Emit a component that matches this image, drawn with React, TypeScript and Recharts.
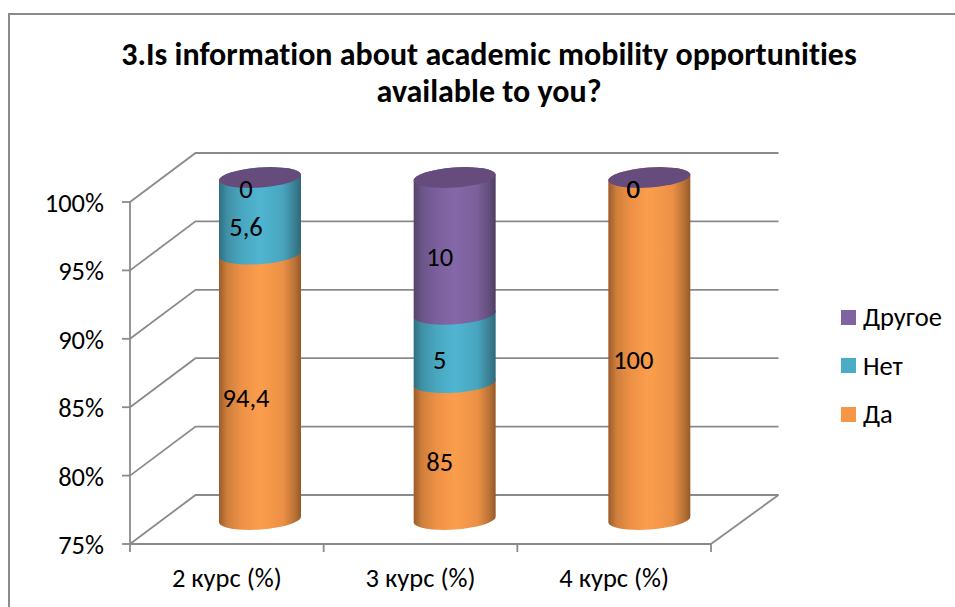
import React from "react";
import { BarChart, Bar, XAxis, YAxis, CartesianGrid, LabelList, Legend } from "recharts";

const titleLines = ["3.Is information about academic mobility opportunities", "available to you?"];
const categories = ["2 курс (%)", "3 курс (%)", "4 курс (%)"];
const yesValues = [94.4, 85, 100];
const noValues = [5.6, 5, 0];
const otherValues = [0, 10, 0];
const yTicks = [75, 80, 85, 90, 95, 100];

const W = 955, H = 607;
const PLOT_L = 130, PLOT_R = 711, PLOT_T = 202, PLOT_B = 544;
const WALL_DX = 65.5, WALL_DX_RIGHT = 67.5, WALL_DY = -49;
const BAR_DX = 33, BAR_DY = -24.5, BAR_SPREAD = 1;
const LABEL_DX = 19, LABEL_DY = -13.5;
const TILT = 3, RY = 10;
const LINE = "#8a8a8a";
const FONT = "Carlito, Lato, 'Open Sans', sans-serif";
const TXT = "#000000";
const FS = 26.5;

const data = categories.map((c, i) => ({ category: c, yes: yesValues[i], no: noValues[i], other: otherValues[i] }));

const palette: Record<string, { fill: string; stops: [number, string][]; cap?: string }> = {
  yes: { fill: "#F79646", stops: [[0, "#9a5c2b"], [0.1, "#cf7f3c"], [0.28, "#ee9146"], [0.5, "#fb9e4c"], [0.78, "#ec9046"], [0.92, "#bb7336"], [1, "#94592a"]] },
  no: { fill: "#4BACC6", stops: [[0, "#2f6f80"], [0.1, "#3f90a6"], [0.28, "#49a7c0"], [0.5, "#50b5d1"], [0.78, "#48a5be"], [0.92, "#3a8094"], [1, "#2d6a7a"]] },
  other: { fill: "#8064A2", stops: [[0, "#544369"], [0.1, "#6c5589"], [0.28, "#7b609c"], [0.5, "#8568a8"], [0.78, "#7a5f9a"], [0.92, "#624e7c"], [1, "#4f3f63"]], cap: "#654c7d" },
};

function cylinder(key: string) {
  return (props: any) => {
    const { x, y, width, height, index } = props;
    const cx = x + width / 2 + BAR_DX + index * BAR_SPREAD;
    const rx = width / 2;
    const yTop = y + BAR_DY;
    const yBot = Math.min(y + height, PLOT_B) + BAR_DY;
    const r = Math.hypot(rx, TILT);
    const rot = (-Math.atan2(TILT, rx) * 180) / Math.PI;
    const d = [
      `M ${cx - rx} ${yTop + TILT}`,
      `A ${r} ${RY} ${rot} 0 1 ${cx + rx} ${yTop - TILT}`,
      `L ${cx + rx} ${yBot - TILT}`,
      `A ${r} ${RY} ${rot} 0 1 ${cx - rx} ${yBot + TILT}`,
      "Z",
    ].join(" ");
    return (
      <g>
        {height > 0 && <path d={d} fill={`url(#grad-${key})`} />}
        {palette[key].cap && (
          <ellipse cx={cx} cy={yTop} rx={r} ry={RY} fill={palette[key].cap} transform={`rotate(${rot} ${cx} ${yTop})`} />
        )}
      </g>
    );
  };
}

const SegmentLabel = (props: any) => {
  const { x, y, width, height, value } = props;
  const bottom = Math.min(y + height, PLOT_B);
  return (
    <text
      x={x + width / 2 + LABEL_DX}
      y={(y + bottom) / 2 + LABEL_DY}
      textAnchor="middle"
      dominantBaseline="central"
      fontSize={FS}
      fontFamily={FONT}
      fill={TXT}
    >
      {String(value).replace(".", ",")}
    </text>
  );
};

const GridLine = (props: any) => {
  const { x1, x2, y1 } = props;
  const floor = Math.abs(y1 - PLOT_B) < 1;
  const bx1 = x1 + WALL_DX, bx2 = x2 + WALL_DX_RIGHT, by = y1 + WALL_DY;
  return (
    <g fill="none" stroke={LINE} strokeWidth={1.8}>
      <path d={`M ${x1} ${y1} L ${bx1} ${by} L ${bx2} ${by}`} />
      {floor && <path d={`M ${x2} ${y1} L ${bx2} ${by}`} />}
    </g>
  );
};

const XTick = (props: any) => {
  const { x, y, payload, index } = props;
  const half = (PLOT_R - PLOT_L) / categories.length / 2;
  return (
    <g>
      {index === 0 && <line x1={x - half} x2={x - half} y1={PLOT_B} y2={PLOT_B + 8} stroke={LINE} strokeWidth={1.8} />}
      <line x1={x + half} x2={x + half} y1={PLOT_B} y2={PLOT_B + 8} stroke={LINE} strokeWidth={1.8} />
      <text x={x} y={y + 26} textAnchor="middle" dominantBaseline="central" fontSize={FS} fontFamily={FONT} fill={TXT}>
        {payload.value}
      </text>
    </g>
  );
};

const YTick = (props: any) => {
  const { x, y, payload } = props;
  return (
    <text x={x} y={y + 1} textAnchor="end" dominantBaseline="central" fontSize={FS} fontFamily={FONT} fill={TXT}>
      {`${payload.value}%`}
    </text>
  );
};

const names: Record<string, string> = { yes: "Да", no: "Нет", other: "Другое" };

const LegendBox = (props: any) => {
  const items = [...(props.payload || [])].reverse();
  return (
    <div style={{ fontFamily: FONT, fontSize: FS, color: TXT }}>
      {items.map((it: any) => (
        <div key={it.value} style={{ display: "flex", alignItems: "center", height: 48.5 }}>
          <span style={{ display: "inline-block", width: 15, height: 15, background: it.color, marginRight: 7 }} />
          <span>{it.value}</span>
        </div>
      ))}
    </div>
  );
};

export default function App() {
  return (
    <div style={{ position: "absolute", left: 0, top: 0, width: W, height: H, background: "#fff", overflow: "hidden" }}>
      <style>{`.recharts-surface g { clip-path: none !important; }`}</style>
      <div style={{ position: "absolute", left: 8, top: 13, right: -4, bottom: -4, borderLeft: `2px solid ${LINE}`, borderTop: `2px solid ${LINE}` }} />
      <div
        style={{
          position: "absolute",
          left: 0,
          width: 978,
          top: 36,
          textAlign: "center",
          fontFamily: FONT,
          fontWeight: 700,
          fontSize: 32,
          lineHeight: "37px",
          color: TXT,
          fontVariantLigatures: "none",
        }}
      >
        {titleLines.map((t) => (
          <div key={t}>{t}</div>
        ))}
      </div>
      <div style={{ position: "absolute", left: 0, top: 0 }}>
        <BarChart
          width={W}
          height={H}
          data={data}
          margin={{ top: PLOT_T, left: 0, right: W - PLOT_R, bottom: 0 }}
          barSize={82}
          style={{ overflow: "visible" }}
        >
          <defs>
            {Object.keys(palette).map((k) => (
              <linearGradient key={k} id={`grad-${k}`} x1="0" y1="0" x2="1" y2="0">
                {palette[k].stops.map(([o, c]) => (
                  <stop key={o} offset={o} stopColor={c} />
                ))}
              </linearGradient>
            ))}
          </defs>
          <CartesianGrid vertical={false} horizontal={GridLine as any} />
          <XAxis
            dataKey="category"
            height={H - PLOT_B}
            axisLine={{ stroke: LINE, strokeWidth: 1.8 }}
            tickLine={false}
            tick={XTick as any}
            interval={0}
          />
          <YAxis
            width={PLOT_L}
            domain={[75, 100]}
            allowDataOverflow
            ticks={yTicks}
            interval={0}
            axisLine={{ stroke: LINE, strokeWidth: 1.8 }}
            tickLine={{ stroke: LINE, strokeWidth: 1.8 }}
            tickSize={8}
            tickMargin={18}
            tick={YTick as any}
          />
          <Legend
            layout="horizontal"
            verticalAlign="middle"
            align="center"
            itemSorter={null as any}
            content={LegendBox as any}
            wrapperStyle={{ position: "absolute", left: 841, top: 293, width: 114, height: 146, margin: 0 }}
          />
          {(["yes", "no", "other"] as const).map((k) => (
            <Bar
              key={k}
              dataKey={k}
              name={names[k]}
              stackId="s"
              fill={palette[k].fill}
              isAnimationActive={false}
              shape={cylinder(k) as any}
            >
              <LabelList dataKey={k} content={SegmentLabel as any} />
            </Bar>
          ))}
        </BarChart>
      </div>
    </div>
  );
}
